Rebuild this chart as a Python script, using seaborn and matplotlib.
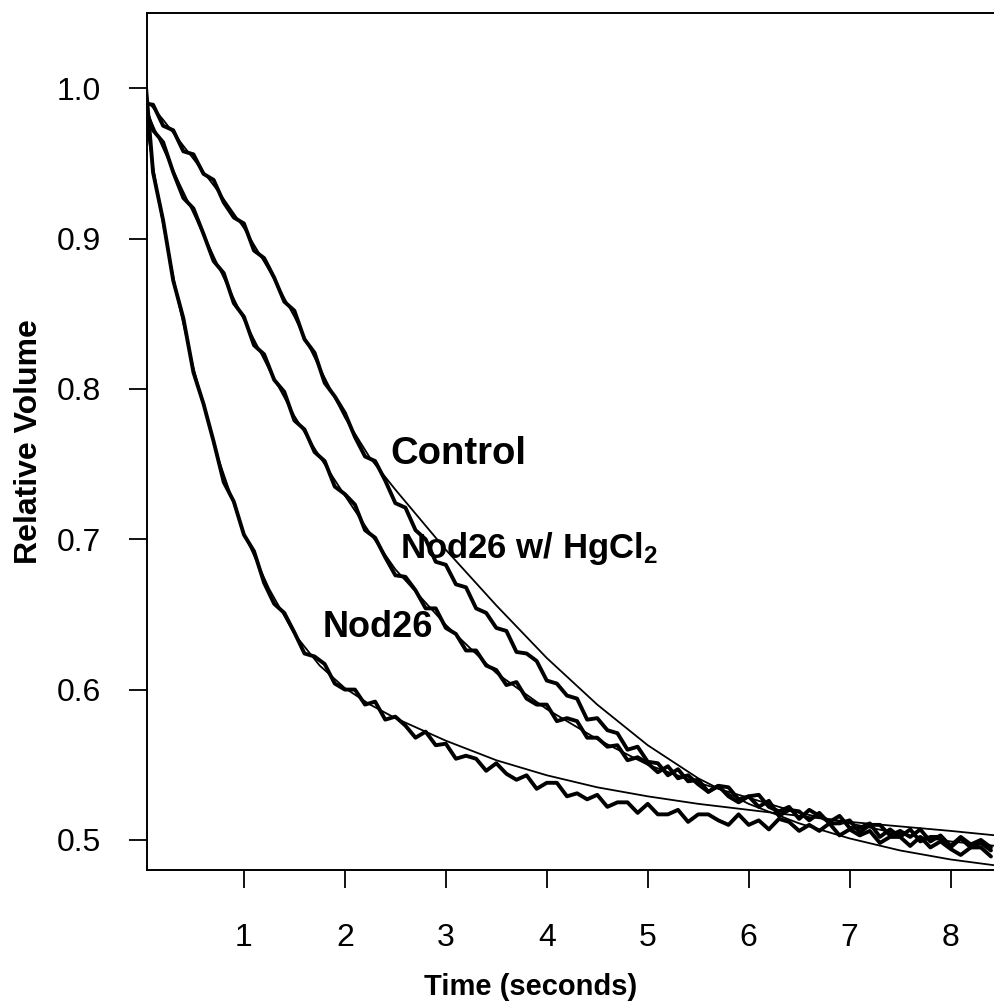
import matplotlib
matplotlib.use("Agg")
import matplotlib.pyplot as plt
import seaborn as sns
import pandas as pd

# ---------------- data ----------------
trace_time = [round(0.1 * i, 1) for i in range(85)]  # 0.0 .. 8.4 s

control_trace = [
    0.990, 0.989, 0.975, 0.972, 0.958, 0.956, 0.943, 0.939, 0.924, 0.914,
    0.910, 0.892, 0.887, 0.874, 0.858, 0.852, 0.833, 0.824, 0.804, 0.795,
    0.784, 0.768, 0.755, 0.752, 0.739, 0.724, 0.721, 0.706, 0.700, 0.685,
    0.683, 0.670, 0.668, 0.654, 0.651, 0.641, 0.639, 0.625, 0.624, 0.619,
    0.606, 0.604, 0.596, 0.594, 0.580, 0.581, 0.573, 0.571, 0.560, 0.562,
    0.552, 0.551, 0.543, 0.547, 0.539, 0.540, 0.532, 0.536, 0.529, 0.525,
    0.529, 0.522, 0.526, 0.516, 0.520, 0.519, 0.513, 0.518, 0.511, 0.511,
    0.513, 0.505, 0.510, 0.510, 0.503, 0.506, 0.502, 0.507, 0.499, 0.503,
    0.496, 0.502, 0.497, 0.500, 0.495,
]

hgcl2_trace = [
    0.992, 0.972, 0.964, 0.944, 0.927, 0.920, 0.903, 0.885, 0.877, 0.857,
    0.848, 0.829, 0.823, 0.806, 0.798, 0.779, 0.773, 0.758, 0.752, 0.735,
    0.730, 0.723, 0.706, 0.701, 0.688, 0.676, 0.675, 0.666, 0.654, 0.654,
    0.641, 0.637, 0.626, 0.626, 0.616, 0.613, 0.603, 0.605, 0.594, 0.590,
    0.590, 0.579, 0.581, 0.579, 0.568, 0.568, 0.562, 0.563, 0.553, 0.555,
    0.551, 0.545, 0.549, 0.541, 0.543, 0.537, 0.532, 0.536, 0.535, 0.527,
    0.529, 0.530, 0.522, 0.519, 0.522, 0.514, 0.520, 0.516, 0.512, 0.516,
    0.508, 0.508, 0.511, 0.502, 0.507, 0.502, 0.507, 0.499, 0.502, 0.502,
    0.495, 0.501, 0.495, 0.498, 0.493,
]

nod26_trace = [
    1.025, 0.944, 0.912, 0.872, 0.847, 0.811, 0.790, 0.765, 0.738, 0.725,
    0.703, 0.692, 0.671, 0.657, 0.651, 0.638, 0.624, 0.622, 0.617, 0.604,
    0.600, 0.600, 0.590, 0.592, 0.580, 0.582, 0.576, 0.568, 0.572, 0.563,
    0.564, 0.554, 0.556, 0.554, 0.546, 0.551, 0.544, 0.540, 0.543, 0.534,
    0.538, 0.538, 0.529, 0.531, 0.527, 0.530, 0.522, 0.525, 0.525, 0.518,
    0.524, 0.517, 0.517, 0.520, 0.512, 0.517, 0.517, 0.513, 0.510, 0.517,
    0.510, 0.513, 0.507, 0.514, 0.512, 0.506, 0.510, 0.506, 0.511, 0.503,
    0.507, 0.503, 0.506, 0.498, 0.502, 0.502, 0.496, 0.502, 0.495, 0.499,
    0.494, 0.490, 0.495, 0.495, 0.489,
]

fit_time = [0.0, 0.1, 0.2, 0.35, 0.5, 0.75, 1.0, 1.25, 1.5, 1.75, 2.0, 2.25,
            2.5, 3.0, 3.5, 4.0, 4.5, 5.0, 5.5, 6.0, 6.5, 7.0, 7.5, 8.0, 8.45]

control_fit = [0.995, 0.987, 0.979, 0.966, 0.953, 0.931, 0.907, 0.879, 0.848,
               0.814, 0.781, 0.754, 0.733, 0.693, 0.656, 0.621, 0.590, 0.563,
               0.541, 0.524, 0.511, 0.501, 0.493, 0.487, 0.483]
hgcl2_fit = [0.990, 0.975, 0.960, 0.938, 0.917, 0.881, 0.846, 0.813, 0.782,
             0.755, 0.729, 0.704, 0.680, 0.643, 0.611, 0.587, 0.567, 0.550,
             0.538, 0.528, 0.518, 0.511, 0.504, 0.499, 0.496]
nod26_fit = [0.990, 0.948, 0.909, 0.858, 0.814, 0.753, 0.704, 0.667, 0.637,
             0.616, 0.601, 0.590, 0.581, 0.566, 0.553, 0.543, 0.535, 0.529,
             0.524, 0.520, 0.516, 0.512, 0.509, 0.506, 0.503]

x_ticks = [1, 2, 3, 4, 5, 6, 7, 8]
y_ticks = [0.5, 0.6, 0.7, 0.8, 0.9, 1.0]
y_tick_labels = ["0.5", "0.6", "0.7", "0.8", "0.9", "1.0"]

labels = ["Control", "Nod26 w/ HgCl$\\mathregular{_2}$", "Nod26"]
label_pos = [(2.45, 0.757), (2.55, 0.694), (1.78, 0.641)]
label_sizes = [27.5, 25, 26]

# ---------------- plotting ----------------
sns.set_style("ticks")
plt.rcParams["font.family"] = ["Liberation Sans", "DejaVu Sans"]
plt.rcParams["text.color"] = "black"
plt.rcParams["axes.labelcolor"] = "black"
plt.rcParams["xtick.color"] = "black"
plt.rcParams["ytick.color"] = "black"

fig = plt.figure(figsize=(9.95, 10.05), dpi=100)
ax = fig.add_axes([147 / 995, 1 - 870 / 1005, 1 - 147 / 995, (870 - 13) / 1005])

traces = pd.DataFrame({
    "time": trace_time * 3,
    "volume": control_trace + hgcl2_trace + nod26_trace,
    "series": ["Control"] * 85 + ["HgCl2"] * 85 + ["Nod26"] * 85,
})
fits = pd.DataFrame({
    "time": fit_time * 3,
    "volume": control_fit + hgcl2_fit + nod26_fit,
    "series": ["Control"] * len(fit_time) + ["HgCl2"] * len(fit_time)
              + ["Nod26"] * len(fit_time),
})

pal = {"Control": "black", "HgCl2": "black", "Nod26": "black"}
sns.lineplot(data=traces, x="time", y="volume", hue="series", units="series",
             estimator=None, sort=False, palette=pal, linewidth=2.8,
             legend=False, ax=ax)
sns.lineplot(data=fits, x="time", y="volume", hue="series", units="series",
             estimator=None, sort=False, palette=pal, linewidth=1.3,
             legend=False, ax=ax)

ax.set_xlim(0.04, 8.44)
ax.set_ylim(0.48, 1.05)
ax.set_xticks(x_ticks)
ax.set_xticklabels([str(v) for v in x_ticks])
ax.set_yticks(y_ticks)
ax.set_yticklabels(y_tick_labels)

ax.tick_params(axis="both", direction="out", length=13, width=1.3,
               labelsize=23, colors="black")
ax.tick_params(axis="x", pad=25)
ax.tick_params(axis="y", pad=20)

for side in ["left", "top", "bottom"]:
    ax.spines[side].set_visible(True)
    ax.spines[side].set_linewidth(1.4)
    ax.spines[side].set_color("black")
ax.spines["right"].set_visible(False)

ax.set_xlabel("Time (seconds)", fontsize=21, fontweight="bold")
ax.set_ylabel("Relative Volume", fontsize=23, fontweight="bold")
ax.xaxis.set_label_coords(0.452, -0.12)
ax.yaxis.set_label_coords(-0.122, 0.5)

for txt, (tx, ty), fs in zip(labels, label_pos, label_sizes):
    ax.text(tx, ty, txt, fontsize=fs, fontweight="bold", ha="left",
            va="center", color="black")

fig.savefig("out.png", dpi=100)
